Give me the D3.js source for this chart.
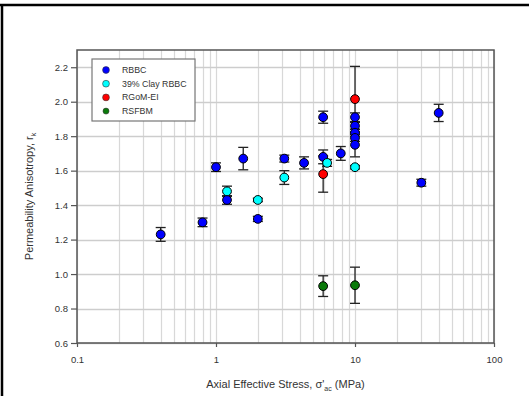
<!DOCTYPE html>
<html>
<head>
<meta charset="utf-8">
<script src="https://cdn.jsdelivr.net/npm/d3@7"></script>
<style>
  body { margin: 0; background: #fff; }
  svg { display: block; font-family: Arial, "Liberation Sans", sans-serif; }
</style>
</head>
<body>
<script>
// series names, colours in legend order
var seriesNames = ["RBBC", "39% Clay RBBC", "RGoM-EI", "RSFBM"];
var seriesColors = ["#0000ff", "#00ffff", "#ff0000", "#0a7a0a"];

// RBBC
var rbbcX   = [0.4, 0.8, 1.0, 1.2, 1.57, 2.0, 3.1, 4.3, 5.9, 5.9, 7.9, 10, 10, 10, 10, 10, 30, 40];
var rbbcY   = [1.23, 1.30, 1.62, 1.43, 1.67, 1.32, 1.67, 1.645, 1.91, 1.68, 1.70, 1.91, 1.86, 1.82, 1.79, 1.75, 1.53, 1.935];
var rbbcErr = [0.04, 0.025, 0.025, 0.025, 0.065, 0.015, 0.02, 0.035, 0.035, 0.04, 0.04, 0.025, 0.02, 0.02, 0.02, 0.07, 0.02, 0.05];
// 39% clay RBBC
var clayX   = [1.2, 2.0, 3.1, 6.3, 10];
var clayY   = [1.48, 1.43, 1.56, 1.645, 1.62];
var clayErr = [0.03, 0.01, 0.04, 0.02, 0.01];
// RGoM-EI
var rgomX   = [5.9, 10];
var rgomY   = [1.58, 2.015];
var rgomErr = [0.105, 0.19];
// RSFBM
var rsfX    = [5.9, 10];
var rsfY    = [0.93, 0.935];
var rsfErr  = [0.06, 0.105];

var yTicks = [0.6, 0.8, 1.0, 1.2, 1.4, 1.6, 1.8, 2.0, 2.2];
var xTicks = [0.1, 1, 10, 100];

/* build rows per series */
function rows(xs, ys, es, k) {
  return xs.map(function(d, i) { return {x: d, y: ys[i], e: es[i], s: k}; });
}
var series = [
  rows(rbbcX, rbbcY, rbbcErr, 0),
  rows(clayX, clayY, clayErr, 1),
  rows(rgomX, rgomY, rgomErr, 2),
  rows(rsfX, rsfY, rsfErr, 3)
];

var W = 529, H = 396;
var margin = {top: 50, right: 35, bottom: 53, left: 77};
var width = 494 - margin.left,
    height = 343 - margin.top;

var x = d3.scaleLog().domain([0.1, 100]).range([0, width]);
var y = d3.scaleLinear().domain([0.6, 2.3]).range([height, 0]);

var svg = d3.select("body").append("svg")
  .attr("width", W).attr("height", H);

// outer frame (top + left rules)
svg.append("line").attr("x1", 0).attr("x2", W).attr("y1", 5).attr("y2", 5)
  .attr("stroke", "#000").attr("stroke-width", 2.5);
svg.append("line").attr("x1", 2).attr("x2", 2).attr("y1", 4).attr("y2", H)
  .attr("stroke", "#000").attr("stroke-width", 2.5);

var g = svg.append("g").attr("transform", "translate(" + margin.left + "," + margin.top + ")");

// vertical grid (log minors + decades)
var vgrid = [];
[0.1, 1, 10].forEach(function(dec) {
  for (var m = 1; m <= 9; m++) vgrid.push(dec * m);
});
vgrid.push(100);
g.append("g").selectAll("line").data(vgrid).enter().append("line")
  .attr("x1", function(d) { return Math.round(x(d)) + 0.5; })
  .attr("x2", function(d) { return Math.round(x(d)) + 0.5; })
  .attr("y1", 0).attr("y2", height)
  .attr("stroke", "#d8d8d8").attr("stroke-width", 1.2);

// horizontal grid
g.append("g").selectAll("line").data(yTicks).enter().append("line")
  .attr("x1", 0).attr("x2", width)
  .attr("y1", function(d) { return Math.round(y(d)) + 0.5; })
  .attr("y2", function(d) { return Math.round(y(d)) + 0.5; })
  .attr("stroke", "#cdcdcd").attr("stroke-width", 1.5);

// frame
g.append("rect").attr("width", width).attr("height", height)
  .attr("fill", "none").attr("stroke", "#555").attr("stroke-width", 1.5);

// axes
var yAxis = d3.axisLeft(y).tickValues(yTicks).tickFormat(d3.format(".1f")).tickSizeInner(6).tickSizeOuter(0).tickPadding(3);
var xAxis = d3.axisBottom(x).tickValues(xTicks).tickFormat(function(d) { return d >= 1 ? d3.format("d")(d) : d; }).tickSizeInner(4).tickSizeOuter(0).tickPadding(9);

var ya = g.append("g").call(yAxis);
var xa = g.append("g").attr("transform", "translate(0," + height + ")").call(xAxis);
[ya, xa].forEach(function(a) {
  a.select(".domain").remove();
  a.selectAll("line").attr("stroke", "#555").attr("stroke-width", 1.2);
  a.selectAll("text").attr("fill", "#333").style("font-size", "9.5px");
});

// error bars + markers
var cap = 5;
series.forEach(function(data) {
  var eg = g.append("g");
  data.forEach(function(d) {
    var cx = x(d.x), y0 = y(d.y - d.e), y1 = y(d.y + d.e);
    eg.append("line").attr("x1", cx).attr("x2", cx).attr("y1", y0).attr("y2", y1)
      .attr("stroke", "#222").attr("stroke-width", 1.3);
    [y0, y1].forEach(function(yy) {
      eg.append("line").attr("x1", cx - cap).attr("x2", cx + cap).attr("y1", yy).attr("y2", yy)
        .attr("stroke", "#222").attr("stroke-width", 1.3);
    });
  });
});
series.forEach(function(data) {
  g.append("g").selectAll("circle").data(data).enter().append("circle")
    .attr("cx", function(d) { return x(d.x); })
    .attr("cy", function(d) { return y(d.y); })
    .attr("r", 4.4)
    .attr("fill", function(d) { return seriesColors[d.s]; })
    .attr("stroke", "#000").attr("stroke-width", 1);
});

// legend
var lg = g.append("g").attr("transform", "translate(15,9)");
lg.append("rect").attr("width", 103).attr("height", 62)
  .attr("fill", "#fff").attr("stroke", "#777").attr("stroke-width", 1.2);
seriesNames.forEach(function(n, i) {
  var yy = 11 + i * 13.7;
  lg.append("circle").attr("cx", 14).attr("cy", yy).attr("r", i == 3 ? 3 : 3.4)
    .attr("fill", seriesColors[i]).attr("stroke", "#333").attr("stroke-width", 0.6);
  lg.append("text").attr("x", 30).attr("y", yy + 3).text(n)
    .attr("fill", "#333").style("font-size", "8.8px");
});

// axis titles
var yt = svg.append("text")
  .attr("transform", "translate(33," + (margin.top + height / 2) + ") rotate(-90)")
  .attr("text-anchor", "middle").attr("fill", "#333").style("font-size", "11px");
yt.append("tspan").text("Permeability Anisotropy, r");
yt.append("tspan").attr("dy", 3).style("font-size", "7px").text("k");

var xt = svg.append("text")
  .attr("x", margin.left + width / 2).attr("y", 388)
  .attr("text-anchor", "middle").attr("fill", "#333").style("font-size", "11px");
xt.append("tspan").text("Axial Effective Stress, \u03c3'");
xt.append("tspan").attr("dy", 3).style("font-size", "7px").text("ac");
xt.append("tspan").attr("dy", -3).text(" (MPa)");
</script>
</body>
</html>
